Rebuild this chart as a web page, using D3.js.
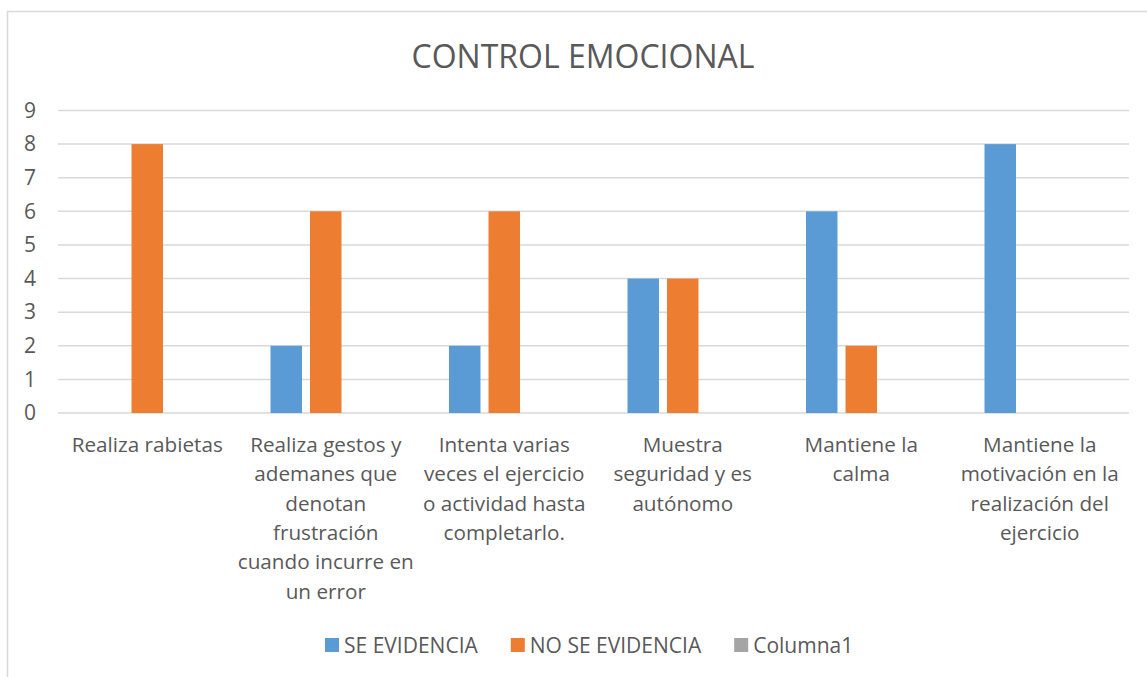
<!DOCTYPE html>
<html>
<head>
<meta charset="utf-8">
<script src="https://cdn.jsdelivr.net/npm/d3@7"></script>
<style>
  html, body { margin: 0; padding: 0; background: #fff; }
  svg { display: block; font-family: "Open Sans", "Noto Sans", sans-serif; }
</style>
</head>
<body>
<svg id="chart" width="1147" height="677"></svg>
<script>
// Chart data
const title = 'CONTROL EMOCIONAL';
const categories = [
  ['Realiza rabietas'],
  ['Realiza gestos y', 'ademanes que', 'denotan', 'frustración', 'cuando incurre en', 'un error'],
  ['Intenta varias', 'veces el ejercicio', 'o actividad hasta', 'completarlo.'],
  ['Muestra', 'seguridad y es', 'autónomo'],
  ['Mantiene la', 'calma'],
  ['Mantiene la', 'motivación en la', 'realización del', 'ejercicio']
];
const seriesNames = ['SE EVIDENCIA', 'NO SE EVIDENCIA', 'Columna1'];
const seEvidencia = [0, 2, 2, 4, 6, 8];
const noSeEvidencia = [8, 6, 6, 4, 2, 0];
const columna1 = [0, 0, 0, 0, 0, 0];
const yTicks = [0, 1, 2, 3, 4, 5, 6, 7, 8, 9];
const colors = ['#5b9bd5', '#ed7d31', '#a5a5a5'];

const seriesValues = [seEvidencia, noSeEvidencia, columna1];
const textColor = '#595959';
const gridColor = '#d9d9d9';

const svg = d3.select('#chart');

// Outer chart border (runs off the right and bottom edges)
svg.append('rect')
  .attr('x', 7.5)
  .attr('y', 11.5)
  .attr('width', 1152)
  .attr('height', 700)
  .attr('fill', '#fff')
  .attr('stroke', gridColor)
  .attr('stroke-width', 1.5);

// Title
svg.append('text')
  .attr('x', 583)
  .attr('y', 68)
  .attr('text-anchor', 'middle')
  .attr('fill', textColor)
  .attr('font-size', '32px')
  .text(title);

// Plot area
const plot = { left: 58, right: 1129, top: 110.5, bottom: 413 };

const x0 = d3.scaleBand()
  .domain(d3.range(categories.length))
  .range([plot.left, plot.right]);

const groupWidth = 110.5;
const x1 = d3.scaleBand()
  .domain(seriesNames)
  .range([(x0.bandwidth() - groupWidth) / 2, (x0.bandwidth() + groupWidth) / 2])
  .paddingInner(0.203);

const y = d3.scaleLinear()
  .domain([0, 9])
  .range([plot.bottom, plot.top]);

// Gridlines
svg.append('g')
  .selectAll('line')
  .data(yTicks)
  .enter()
  .append('line')
  .attr('x1', plot.left)
  .attr('x2', plot.right)
  .attr('y1', d => y(d))
  .attr('y2', d => y(d))
  .attr('stroke', gridColor)
  .attr('stroke-width', 1.5);

// Y axis labels
const yAxis = svg.append('g')
  .attr('transform', `translate(${plot.left - 22},0)`)
  .call(d3.axisLeft(y).tickValues(yTicks).tickSize(0).tickPadding(0));
yAxis.select('.domain').remove();
yAxis.selectAll('text')
  .attr('fill', textColor)
  .attr('font-size', '21px')
  .attr('font-family', '"Open Sans", sans-serif');

// Bars
const bars = [];
seriesNames.forEach((name, s) => {
  seriesValues[s].forEach((v, i) => bars.push({ series: name, s: s, i: i, value: v }));
});

svg.append('g')
  .selectAll('rect')
  .data(bars.filter(d => d.value > 0))
  .enter()
  .append('rect')
  .attr('x', d => x0(d.i) + x1(d.series))
  .attr('y', d => y(d.value))
  .attr('width', x1.bandwidth())
  .attr('height', d => y(0) - y(d.value))
  .attr('fill', d => colors[d.s]);

// Category labels
const catGroup = svg.append('g');
categories.forEach((lines, i) => {
  const t = catGroup.append('text')
    .attr('text-anchor', 'middle')
    .attr('fill', textColor)
    .attr('font-size', '20.7px');
  lines.forEach((line, j) => {
    t.append('tspan')
      .attr('x', x0(i) + x0.bandwidth() / 2)
      .attr('y', 452 + j * 29.3)
      .text(line);
  });
});

// Legend
const legend = svg.append('g').attr('transform', 'translate(325,645)');
let lx = 0;
seriesNames.forEach((name, s) => {
  legend.append('rect')
    .attr('x', lx)
    .attr('y', -7)
    .attr('width', 14)
    .attr('height', 14)
    .attr('fill', colors[s]);
  const t = legend.append('text')
    .attr('x', lx + 19)
    .attr('y', 7.5)
    .attr('fill', textColor)
    .attr('font-size', '21px')
    .text(name);
  lx += 19 + t.node().getComputedTextLength() + 33;
});
</script>
</body>
</html>
